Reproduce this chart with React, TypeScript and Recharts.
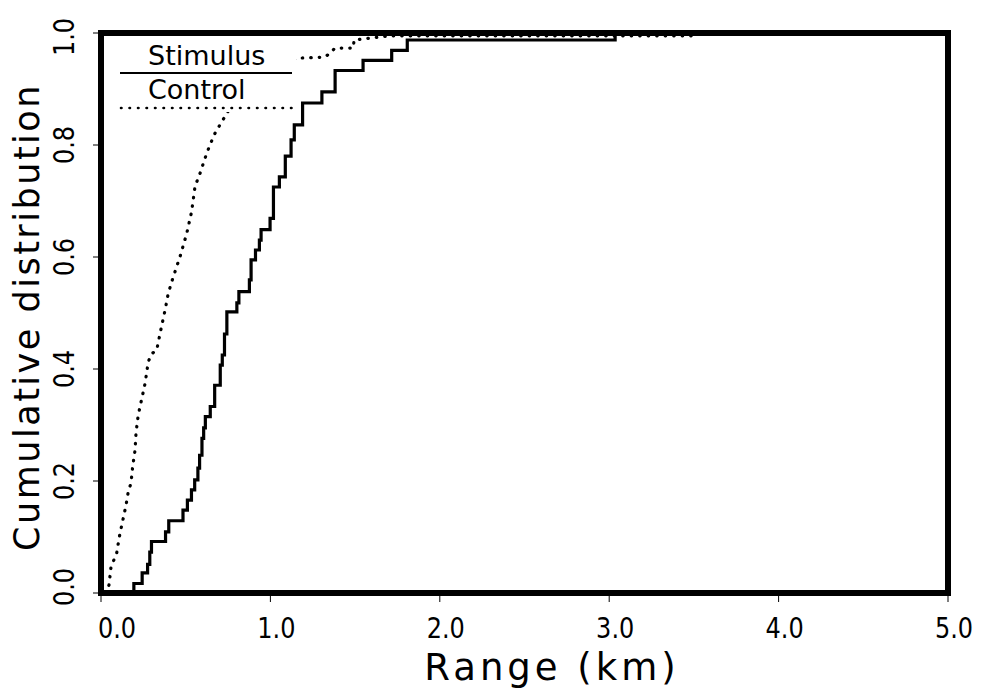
import React from 'react'
import { LineChart, Line, XAxis, YAxis, ReferenceArea, Label } from 'recharts'

// stimulus CDF: range (km) where each step rises, and the level after it
const stimRange = [0, 0.194, 0.243, 0.275, 0.288, 0.298, 0.381, 0.4, 0.484, 0.51, 0.534, 0.553, 0.572, 0.582, 0.596, 0.606, 0.616, 0.645, 0.671, 0.704, 0.716, 0.729, 0.743, 0.802, 0.814, 0.876, 0.886, 0.912, 0.935, 0.945, 0.998, 1.018, 1.053, 1.088, 1.122, 1.141, 1.19, 1.304, 1.382, 1.547, 1.716, 1.808, 3.035]
const stimCdf = [0, 0.017, 0.036, 0.051, 0.073, 0.092, 0.109, 0.129, 0.148, 0.166, 0.184, 0.202, 0.223, 0.246, 0.276, 0.295, 0.315, 0.333, 0.371, 0.407, 0.425, 0.4625, 0.502, 0.518, 0.538, 0.559, 0.595, 0.6125, 0.63, 0.649, 0.669, 0.725, 0.743, 0.78, 0.809, 0.836, 0.875, 0.895, 0.933, 0.951, 0.969, 0.9875, 1.0]

// control CDF (dotted)
const ctrlRange = [0.024, 0.047, 0.059, 0.093, 0.108, 0.128, 0.148, 0.161, 0.177, 0.187, 0.201, 0.207, 0.22, 0.24, 0.26, 0.279, 0.299, 0.329, 0.348, 0.378, 0.397, 0.427, 0.466, 0.506, 0.535, 0.555, 0.584, 0.624, 0.643, 0.673, 0.708, 0.76, 1.0, 1.155, 1.322, 1.352, 1.381, 1.489, 1.494, 1.706, 1.76, 3.5]
const ctrlCdf = [0, 0.014, 0.046, 0.072, 0.1, 0.129, 0.157, 0.181, 0.196, 0.226, 0.255, 0.287, 0.318, 0.346, 0.374, 0.413, 0.427, 0.434, 0.4625, 0.505, 0.535, 0.565, 0.6, 0.642, 0.681, 0.726, 0.749, 0.785, 0.8, 0.821, 0.839, 0.865, 0.93, 0.955, 0.957, 0.964, 0.973, 0.973, 0.9875, 0.995, 0.995, 0.995]

const xTicks = [0, 1, 2, 3, 4, 5]
const yTicks = [0, 0.2, 0.4, 0.6, 0.8, 1.0]

const stimData = stimRange.map((x, i) => ({ x, y: stimCdf[i] }))
const ctrlData = ctrlRange.map((x, i) => ({ x, y: ctrlCdf[i] }))

const FONT = '"DejaVu Sans", sans-serif'

// tick digits in the original are tall and narrow, so stretch them a bit
function XTick({ x, payload }: any) {
  const cx = x + (payload.value === 0 ? 16 : 6)
  return (
    <text transform={`translate(${cx} 628) scale(1 1.2)`} textAnchor="middle" dominantBaseline="central" fontSize={24} fontFamily={FONT} fill="#000">
      {payload.value.toFixed(1)}
    </text>
  )
}

function YTick({ y, payload }: any) {
  const cy = payload.value === 0 ? y - 6 : payload.value === 1 ? y + 4 : y
  return (
    <text transform={`translate(64 ${cy}) rotate(-90) scale(1 1.2)`} textAnchor="middle" dominantBaseline="central" fontSize={24} fontFamily={FONT} fill="#000">
      {payload.value.toFixed(1)}
    </text>
  )
}

// legend box sits over the plot and hides the curves behind it
function ChartLegend() {
  return (
    <div style={{ position: 'absolute', left: 104, top: 36, width: 192, height: 76, background: '#fff', fontFamily: FONT, fontSize: 27, color: '#000' }}>
      <div style={{ position: 'absolute', left: 44, top: 5, lineHeight: '30px' }}>Stimulus</div>
      <div style={{ position: 'absolute', left: 44, top: 39, lineHeight: '30px' }}>Control</div>
      <svg width={192} height={76} style={{ position: 'absolute', left: 0, top: 0 }}>
        <line x1={16} x2={188} y1={37} y2={37} stroke="#000" strokeWidth={2} />
        <line x1={17} x2={188} y1={72} y2={72} stroke="#000" strokeWidth={2.6} strokeDasharray="0.5 8" strokeLinecap="round" />
      </svg>
    </div>
  )
}

export default function App() {
  return (
    <div style={{ position: 'absolute', left: 0, top: 0, width: 984, height: 691, background: '#fff' }}>
      <LineChart width={984} height={691} margin={{ top: 33, right: 36, bottom: 0, left: 41 }}>
        <XAxis
          type="number"
          dataKey="x"
          domain={[0, 5]}
          ticks={xTicks}
          axisLine={false}
          tickLine={{ stroke: '#000', strokeWidth: 1 }}
          tickSize={9}
          height={98}
          tick={<XTick />}
          allowDataOverflow
        >
          <Label
            content={() => (
              <text x={552} y={667} textAnchor="middle" dominantBaseline="central" fontSize={37} letterSpacing={4} fontFamily={FONT} fill="#000">
                Range (km)
              </text>
            )}
          />
        </XAxis>
        <YAxis
          type="number"
          dataKey="y"
          domain={[0, 1]}
          ticks={yTicks}
          axisLine={false}
          tickLine={{ stroke: '#000', strokeWidth: 1 }}
          tickSize={8}
          width={60}
          tick={<YTick />}
        >
          <Label
            content={() => (
              <text x={27} y={317} transform="rotate(-90 27 317)" textAnchor="middle" dominantBaseline="central" fontSize={35} letterSpacing={2.5} fontFamily={FONT} fill="#000">
                Cumulative distribution
              </text>
            )}
          />
        </YAxis>
        <Line
          data={ctrlData}
          dataKey="y"
          type="linear"
          stroke="#000"
          strokeWidth={3.2}
          strokeDasharray="0.5 8"
          strokeLinecap="round"
          dot={false}
          activeDot={false}
          isAnimationActive={false}
        />
        <Line
          data={stimData}
          dataKey="y"
          type="stepAfter"
          stroke="#000"
          strokeWidth={3.2}
          dot={false}
          activeDot={false}
          isAnimationActive={false}
        />
        <ReferenceArea x1={0} x2={5} y1={0} y2={1} fill="#fff" fillOpacity={0} stroke="#000" strokeWidth={6} ifOverflow="visible" />
      </LineChart>
      <ChartLegend />
    </div>
  )
}
